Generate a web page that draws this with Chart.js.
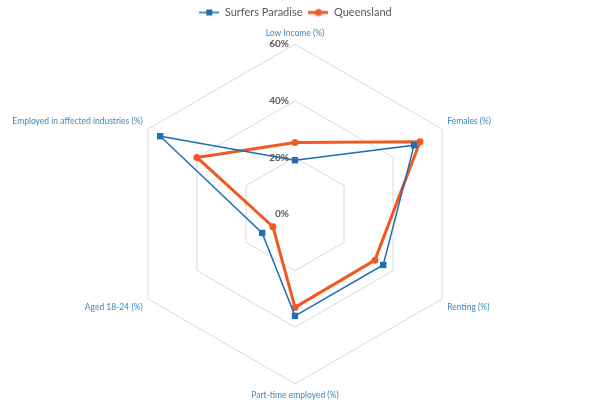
<!DOCTYPE html>
<html>
<head>
<meta charset="utf-8">
<script src="https://cdn.jsdelivr.net/npm/chart.js@4/dist/chart.umd.min.js"></script>
<style>
  html, body { margin: 0; padding: 0; background: #fff; }
  #wrap { width: 591px; height: 400px; }
</style>
</head>
<body>
<div id="wrap"><canvas id="radarChart" width="591" height="400"></canvas></div>
<script>
const labels = [
  'Low Income (%)',
  'Females (%)',
  'Renting (%)',
  'Part-time employed (%)',
  'Aged 18-24 (%)',
  'Employed in affected industries (%)'
];
const surfersParadise = [19, 48.6, 36, 36, 13.4, 55];
const queensland = [25.3, 51, 32.6, 33, 9, 40];
const tickValues = [0, 20, 40, 60];

const blue = '#1f6fb2';
const orange = '#f05a22';
const fontFamily = 'Lato, "Open Sans", sans-serif';

// little line + marker swatch for the legend
function swatch(color, shape, lw) {
  const c = document.createElement('canvas');
  c.width = 20; c.height = 10;
  const ctx = c.getContext('2d');
  ctx.strokeStyle = color;
  ctx.fillStyle = color;
  ctx.lineWidth = lw;
  ctx.beginPath();
  ctx.moveTo(0, 5); ctx.lineTo(20, 5);
  ctx.stroke();
  if (shape === 'rect') {
    ctx.fillRect(7, 2, 6, 6);
  } else {
    ctx.beginPath();
    ctx.arc(10, 5, 3.5, 0, Math.PI * 2);
    ctx.fill();
  }
  return c;
}

// tick labels drawn left of the vertical axis, like Excel
const tickLabelPlugin = {
  id: 'tickLabels',
  afterDatasetsDraw(chart) {
    const r = chart.scales.r;
    const ctx = chart.ctx;
    ctx.save();
    ctx.font = 'bold 10px ' + fontFamily;
    ctx.fillStyle = '#595959';
    ctx.textAlign = 'right';
    ctx.textBaseline = 'middle';
    tickValues.forEach(function (v) {
      const d = r.getDistanceFromCenterForValue(v);
      ctx.fillText(v + '%', r.xCenter - 6, r.yCenter - d);
    });
    ctx.restore();
  }
};

const data = {
  labels: labels,
  datasets: [{
    label: 'Surfers Paradise',
    data: surfersParadise,
    fill: false,
    borderColor: blue,
    backgroundColor: blue,
    borderWidth: 1.5,
    pointStyle: 'rect',
    pointRadius: 4.5,
    pointBorderWidth: 0,
    pointBackgroundColor: blue,
    pointBorderColor: blue
  }, {
    label: 'Queensland',
    data: queensland,
    fill: false,
    borderColor: orange,
    backgroundColor: orange,
    borderWidth: 3,
    pointStyle: 'circle',
    pointRadius: 3.5,
    pointBorderWidth: 0,
    pointBackgroundColor: orange,
    pointBorderColor: orange
  }]
};

const config = {
  type: 'radar',
  data: data,
  options: {
    responsive: false,
    animation: false,
    layout: { padding: { top: 1, bottom: -6, left: 0, right: 0 } },
    plugins: {
      legend: {
        position: 'top',
        labels: {
          color: '#595959',
          font: { size: 11, family: fontFamily },
          usePointStyle: true,
          pointStyleWidth: 20,
          boxHeight: 10,
          padding: 6,
          generateLabels: function (chart) {
            return chart.data.datasets.map(function (ds, i) {
              return {
                text: ds.label,
                pointStyle: swatch(ds.borderColor, ds.pointStyle, ds.borderWidth),
                fontColor: '#595959',
                strokeStyle: ds.borderColor,
                fillStyle: ds.borderColor,
                lineWidth: 0,
                datasetIndex: i
              };
            });
          }
        }
      },
      tooltip: { enabled: false }
    },
    scales: {
      r: {
        min: 0,
        max: 60,
        ticks: { stepSize: 20, display: false },
        angleLines: { display: false },
        grid: { color: '#d9d9d9', lineWidth: 1 },
        pointLabels: {
          color: '#3c87ba',
          padding: 6,
          font: { size: 8.5, family: fontFamily }
        }
      }
    }
  },
  plugins: [tickLabelPlugin]
};

const myChart = new Chart(document.getElementById('radarChart'), config);
</script>
</body>
</html>
